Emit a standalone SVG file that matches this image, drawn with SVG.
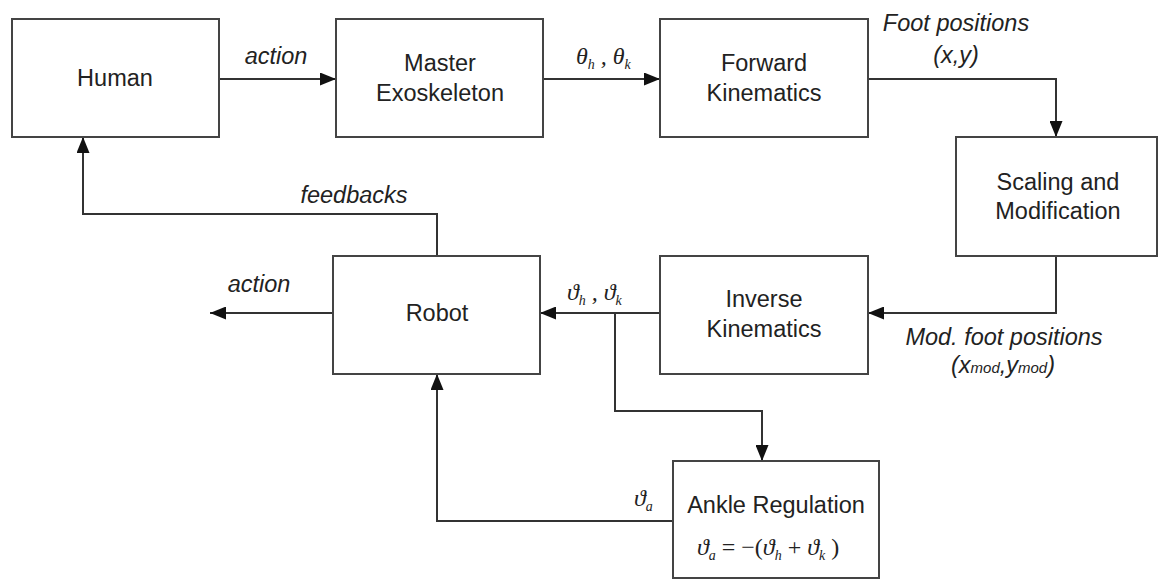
<svg xmlns="http://www.w3.org/2000/svg" width="1160" height="579" viewBox="0 0 1160 579">
<style>
.box{fill:#fff;stroke:#444;stroke-width:2}
.lbl{font-family:"Liberation Sans",Arial,sans-serif;font-size:23.5px;fill:#222;text-anchor:middle}
.it{font-family:"Liberation Sans",Arial,sans-serif;font-size:23.5px;fill:#222;font-style:italic;text-anchor:middle}
.math{font-family:"Liberation Serif","Times New Roman",serif;font-size:24px;fill:#222;font-style:italic}
.sub{font-size:14px}
.con{fill:none;stroke:#333;stroke-width:2}
</style>
<defs>
<marker id="arr" viewBox="0 0 16 13" refX="16" refY="6.5" markerWidth="16" markerHeight="13" markerUnits="userSpaceOnUse" orient="auto">
<path d="M0,0 L16,6.5 L0,13 Z" fill="#111"/>
</marker>
</defs>
<rect width="1160" height="579" fill="#fff"/>
<g id="connectors">
<path class="con" d="M219,79 H336" marker-end="url(#arr)"/>
<path class="con" d="M543,79 H660" marker-end="url(#arr)"/>
<path class="con" d="M868,79 H1056 V137" marker-end="url(#arr)"/>
<path class="con" d="M1056,256 V313 H868" marker-end="url(#arr)"/>
<path class="con" d="M660,313 H540" marker-end="url(#arr)"/>
<path class="con" d="M615,313 V411 H762 V461" marker-end="url(#arr)"/>
<path class="con" d="M673,521 H437 V374" marker-end="url(#arr)"/>
<path class="con" d="M437,256 V214 H83 V137" marker-end="url(#arr)"/>
<path class="con" d="M333,313 H210" marker-end="url(#arr)"/>
<text class="it" x="276" y="64">action</text>
<text class="math" x="576" y="64">θ<tspan class="sub" dy="5">h</tspan><tspan dy="-5"> , θ</tspan><tspan class="sub" dy="5">k</tspan></text>
<text class="it" x="956" y="31">Foot positions</text>
<text class="it" x="956" y="63">(x,y)</text>
<text class="it" x="1004" y="345">Mod. foot positions</text>
<text class="it" x="1003" y="373">(x<tspan font-size="15">mod</tspan>,y<tspan font-size="15">mod</tspan>)</text>
<text class="math" x="567" y="300">ϑ<tspan class="sub" dy="5">h</tspan><tspan dy="-5"> , ϑ</tspan><tspan class="sub" dy="5">k</tspan></text>
<text class="it" x="354" y="203">feedbacks</text>
<text class="it" x="259" y="292">action</text>
<text class="math" x="634" y="506">ϑ<tspan class="sub" dy="5">a</tspan></text>
</g>
<g id="human"><rect class="box" x="12" y="19" width="207" height="118"/><text class="lbl" x="115" y="86">Human</text></g>
<g id="master"><rect class="box" x="336" y="19" width="207" height="118"/><text class="lbl" x="440" y="71">Master</text><text class="lbl" x="440" y="101">Exoskeleton</text></g>
<g id="forward"><rect class="box" x="660" y="19" width="208" height="118"/><text class="lbl" x="764" y="71">Forward</text><text class="lbl" x="764" y="101">Kinematics</text></g>
<g id="scaling"><rect class="box" x="956" y="137" width="201" height="119"/><text class="lbl" x="1058" y="190">Scaling and</text><text class="lbl" x="1058" y="219">Modification</text></g>
<g id="inverse"><rect class="box" x="660" y="256" width="208" height="118"/><text class="lbl" x="764" y="307">Inverse</text><text class="lbl" x="764" y="337">Kinematics</text></g>
<g id="robot"><rect class="box" x="333" y="256" width="207" height="118"/><text class="lbl" x="437" y="321">Robot</text></g>
<g id="ankle"><rect class="box" x="673" y="461" width="206" height="117"/><text class="lbl" x="776" y="513">Ankle Regulation</text>
<text class="math" x="697" y="555">ϑ<tspan class="sub" dy="5">a</tspan><tspan dy="-5" font-style="normal"> = −(</tspan>ϑ<tspan class="sub" dy="5">h</tspan><tspan dy="-5" font-style="normal"> + </tspan>ϑ<tspan class="sub" dy="5">k</tspan><tspan dy="-5" font-style="normal"> )</tspan></text></g>
</svg>
